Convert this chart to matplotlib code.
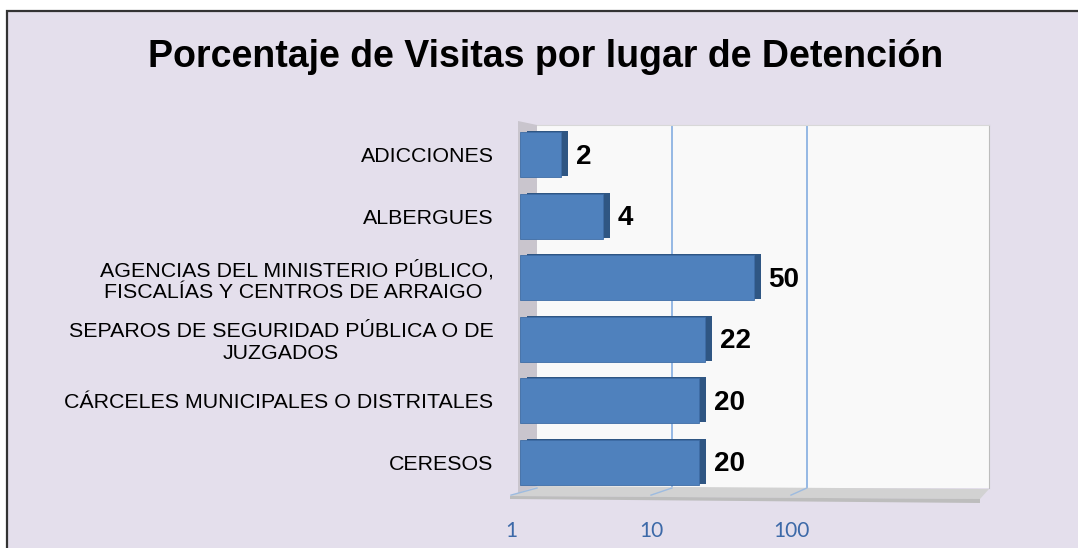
import numpy as np
import matplotlib
matplotlib.use("Agg")
import matplotlib.pyplot as plt
from matplotlib.patches import Polygon, Rectangle
from matplotlib.transforms import ScaledTranslation

plt.rcParams['font.family'] = ['Liberation Sans', 'DejaVu Sans']

# datos (de abajo hacia arriba)
categorias = [
    "CERESOS",
    "CÁRCELES MUNICIPALES O DISTRITALES",
    "SEPAROS DE SEGURIDAD PÚBLICA O DE\nJUZGADOS",
    "AGENCIAS DEL MINISTERIO PÚBLICO,\nFISCALÍAS Y CENTROS DE ARRAIGO ",
    "ALBERGUES",
    "ADICCIONES",
]
porcentajes = [20, 20, 22, 50, 4, 2]
ticks = [1, 10, 100]
titulo = "Porcentaje de Visitas por lugar de Detención"

W, H = 1078, 548
fondo = '#E4DFEC'
azul = '#4F81BD'
azul_lado = '#2F5683'

fig = plt.figure(figsize=(W / 100, H / 100), dpi=100)
fig.patch.set_facecolor('white')


def rect(x0, y0, x1, y1):
    # caja en pixeles (origen arriba a la izquierda) -> fraccion de figura
    return [x0 / W, 1 - y1 / H, (x1 - x0) / W, (y1 - y0) / H]


def fpx(x, y):
    return (x / W, 1 - y / H)


# marco del grafico
fig.patches.append(Rectangle(fpx(7, 560), (W + 20) / W, 549 / H, transform=fig.transFigure,
                             facecolor=fondo, edgecolor='#333333', lw=1.6, zorder=-10))

fig.text(546 / W, 1 - 57 / H, titulo, ha='center', va='center', fontsize=27, fontweight='bold')

xmax = 10 ** 3.35

# pared del fondo
ax_back = fig.add_axes(rect(537, 125, 989, 488))
ax_back.set_zorder(0)
ax_back.set_xscale('log')
ax_back.set_xlim(1, xmax)
ax_back.set_ylim(0, 1)
ax_back.set_facecolor('#F9F9F9')
for s in ax_back.spines.values():
    s.set_visible(False)
ax_back.spines['right'].set_visible(True)
ax_back.spines['right'].set_color('#BDBDBD')
ax_back.spines['top'].set_visible(True)
ax_back.spines['top'].set_color('#D8D8D8')
ax_back.set_xticks([10, 100])
ax_back.xaxis.grid(True, color='#8DB3E2', lw=1.3)
ax_back.tick_params(length=0, labelbottom=False, labelleft=False)
ax_back.set_yticks([])
ax_back.xaxis.set_minor_locator(matplotlib.ticker.NullLocator())

# pared lateral izquierda
fig.patches.append(Polygon([fpx(518, 121), fpx(537, 125), fpx(537, 488), fpx(518, 494)],
                           closed=True, transform=fig.transFigure,
                           facecolor='#C9C5CD', edgecolor='none', zorder=1))

# piso
fig.patches.append(Polygon([fpx(510, 496), fpx(537, 486), fpx(989, 489), fpx(980, 499)],
                           closed=True, transform=fig.transFigure,
                           facecolor='#D2D2D2', edgecolor='none', zorder=1))
fig.patches.append(Polygon([fpx(510, 496), fpx(980, 499), fpx(980, 503), fpx(510, 499)],
                           closed=True, transform=fig.transFigure,
                           facecolor='#BDBDBD', edgecolor='none', zorder=1))

# eje del piso con las etiquetas
ax_floor = fig.add_axes(rect(511, 486, 511 + 140 * 3.35, 500))
ax_floor.set_zorder(3)
ax_floor.set_xscale('log')
ax_floor.set_xlim(1, xmax)
ax_floor.set_ylim(0, 1)
ax_floor.patch.set_alpha(0)
for s in ax_floor.spines.values():
    s.set_visible(False)
ax_floor.set_yticks([])
ax_floor.set_xticks(ticks)
ax_floor.set_xticklabels([str(t) for t in ticks], family=['Lato', 'DejaVu Sans'],
                         fontsize=15, color='#3C69A8')
ax_floor.xaxis.set_minor_locator(matplotlib.ticker.NullLocator())
ax_floor.tick_params(length=0, pad=15)

# lineas del piso: del frente al fondo
fig.canvas.draw()
for t in ticks:
    x0, y0 = ax_floor.transData.transform((t, 0.35))
    x1, y1 = ax_back.transData.transform((t, 0.0))
    fig.lines.append(plt.Line2D([x0 / W, x1 / W], [y0 / H, y1 / H], transform=fig.transFigure,
                                color='#9DBBE0', lw=1.0, zorder=2))

# barras
ax = fig.add_axes(rect(520, 124, 520 + 137.5 * 3.4, 493))
ax.set_zorder(4)
ax.set_xscale('log')
ax.set_xlim(1, 10 ** 3.4)
ax.set_ylim(-0.5, len(categorias) - 0.5)
ax.patch.set_alpha(0)
for s in ax.spines.values():
    s.set_visible(False)

y = np.arange(len(categorias))
vals = np.array(porcentajes, dtype=float)
lado = ax.transData + ScaledTranslation(7 / 100, 1 / 100, fig.dpi_scale_trans)
ax.barh(y, vals - 1, left=1, height=0.73, color=azul_lado, transform=lado, clip_on=False)
ax.barh(y, vals - 1, left=1, height=0.73, color=azul, edgecolor='#3E6DA6', lw=0.6, clip_on=False)

for yi, v in zip(y, porcentajes):
    ax.annotate(str(v), (v, yi), xytext=(15, -2), textcoords='offset pixels',
                ha='left', va='center', fontsize=20, fontweight='bold')

ax.set_yticks(y)
ax.set_yticklabels(categorias, fontsize=15.4, multialignment='center',
                   family=['Liberation Sans', 'DejaVu Sans'])
ax.tick_params(axis='y', length=0, pad=19)
ax.set_xticks([])
ax.xaxis.set_minor_locator(matplotlib.ticker.NullLocator())

fig.savefig('out.png', dpi=100, facecolor=fig.get_facecolor())
